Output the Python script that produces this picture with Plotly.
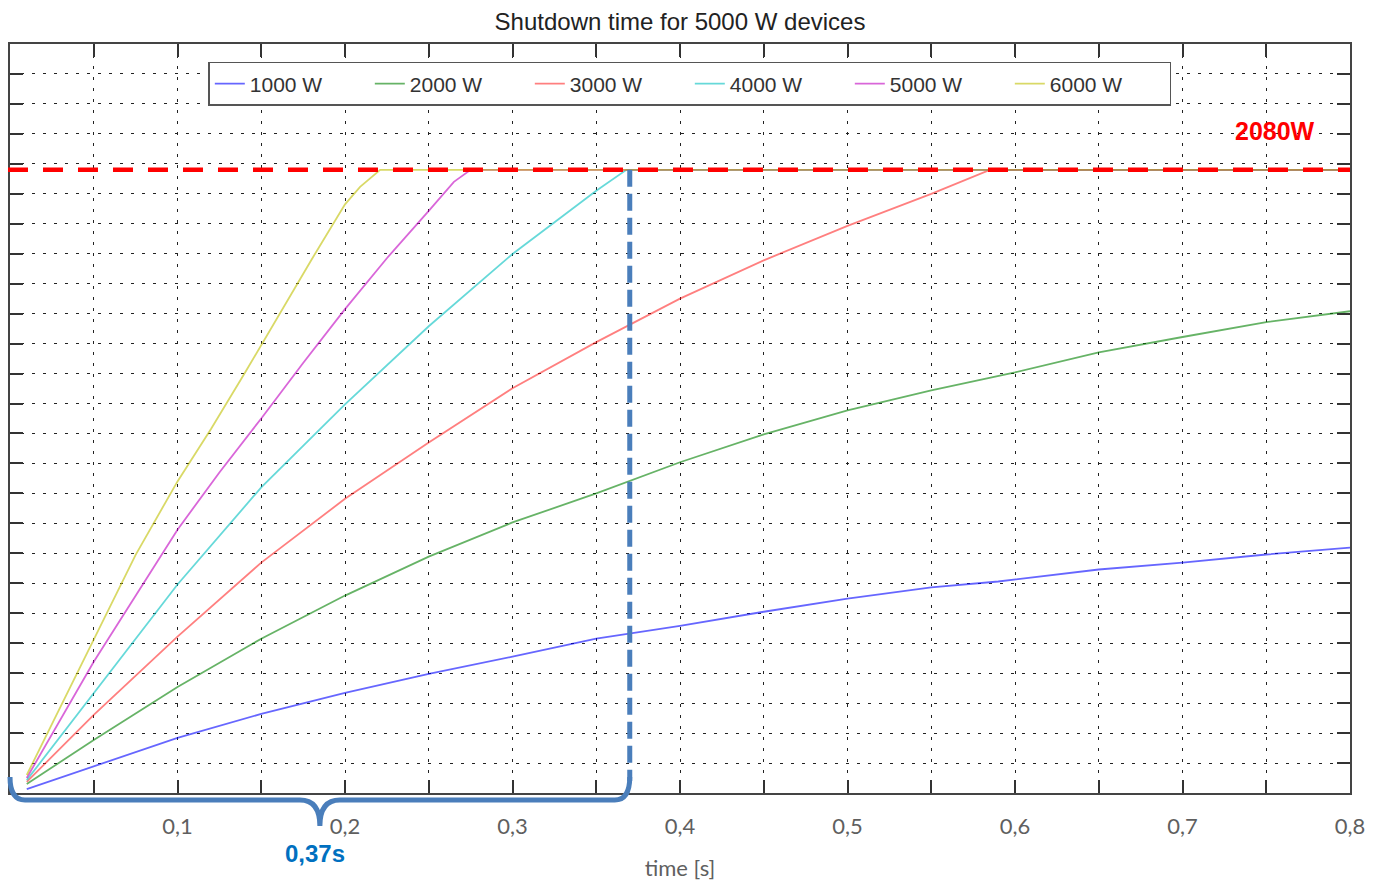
import plotly.graph_objects as go

# ---------------- data ----------------
series_names = ["1000 W", "2000 W", "3000 W", "4000 W", "5000 W", "6000 W"]

t_1000 = [0.010, 0.05, 0.10, 0.15, 0.20, 0.25, 0.30, 0.35, 0.40, 0.45, 0.50, 0.55, 0.59, 0.65, 0.70, 0.75, 0.80]
p_1000 = [13, 90, 184, 264, 334, 398, 455, 515, 558, 605, 649, 686, 706, 746, 769, 796, 819]

t_2000 = [0.010, 0.05, 0.10, 0.15, 0.20, 0.25, 0.30, 0.35, 0.40, 0.45, 0.50, 0.55, 0.60, 0.65, 0.70, 0.75, 0.80]
p_2000 = [30, 177, 354, 515, 659, 789, 903, 1000, 1104, 1197, 1277, 1344, 1404, 1471, 1522, 1572, 1608]

t_3000 = [0.010, 0.05, 0.10, 0.15, 0.20, 0.25, 0.30, 0.35, 0.40, 0.45, 0.50, 0.55, 0.585, 0.80]
p_3000 = [37, 261, 522, 769, 982, 1170, 1351, 1505, 1650, 1778, 1893, 2000, 2080, 2080]

t_4000 = [0.010, 0.05, 0.10, 0.15, 0.20, 0.25, 0.30, 0.35, 0.368, 0.80]
p_4000 = [43, 334, 696, 1020, 1297, 1558, 1799, 2010, 2080, 2080]

t_5000 = [0.010, 0.05, 0.10, 0.125, 0.15, 0.175, 0.20, 0.225, 0.25, 0.265, 0.275, 0.80]
p_5000 = [50, 438, 879, 1070, 1250, 1435, 1615, 1785, 1943, 2040, 2080, 2080]

t_6000 = [0.010, 0.05, 0.075, 0.10, 0.12, 0.14, 0.16, 0.18, 0.20, 0.209, 0.221, 0.80]
p_6000 = [60, 515, 795, 1040, 1215, 1400, 1590, 1780, 1965, 2023, 2080, 2080]

limit_power = 2080          # red dashed threshold
limit_label = "2080W"
shutdown_time = 0.37        # blue marker
shutdown_label = "0,37s"

x_tick_vals = [0.05, 0.10, 0.15, 0.20, 0.25, 0.30, 0.35, 0.40, 0.45, 0.50, 0.55, 0.60, 0.65, 0.70, 0.75, 0.80]
x_tick_text = ["", "0,1", "", "0,2", "", "0,3", "", "0,4", "", "0,5", "", "0,6", "", "0,7", "", "0,8"]
x_range = [0, 0.8]
y_range = [0, 2500]
y_grid_step = 100

line_colors = ["rgba(0,0,255,0.6)", "rgba(0,128,0,0.6)", "rgba(255,0,0,0.5)",
               "rgba(0,191,191,0.6)", "rgba(191,0,191,0.6)", "rgba(191,191,0,0.6)"]

# ---------------- figure ----------------
fig = go.Figure()
all_t = [t_1000, t_2000, t_3000, t_4000, t_5000, t_6000]
all_p = [p_1000, p_2000, p_3000, p_4000, p_5000, p_6000]
for name, tt, pp, col in zip(series_names, all_t, all_p, line_colors):
    fig.add_trace(go.Scatter(x=tt, y=pp, mode="lines", name=name,
                             line=dict(color=col, width=1.8)))

W, H = 1385, 881
ml, mr, mt, mb = 10, 35, 44, 88
plot_w = W - ml - mr
ph = H - mt - mb

fig.update_layout(
    width=W, height=H,
    margin=dict(l=ml, r=mr, t=mt, b=mb, autoexpand=False),
    paper_bgcolor="white", plot_bgcolor="white",
    title=dict(text="Shutdown time for 5000 W devices", x=0.5, xref="paper",
               y=1 - 22 / H, yref="container", xanchor="center", yanchor="middle",
               font=dict(family="Liberation Sans, Arial", size=24, color="#222222")),
    showlegend=True,
    legend=dict(orientation="h", x=0.148, y=0.976, xanchor="left", yanchor="top",
                bgcolor="white", bordercolor="#555555", borderwidth=1.5,
                entrywidth=115, entrywidthmode="pixels",
                font=dict(family="Liberation Sans, Arial", size=21, color="#333333")),
)

grid_kw = dict(showgrid=True, gridcolor="#222222", gridwidth=1.2, griddash="3px,8px",
               showline=True, linecolor="#444444", linewidth=2, mirror="ticks",
               ticks="inside", ticklen=13, tickwidth=2, tickcolor="#333333",
               zeroline=False, automargin=False)

fig.update_xaxes(range=x_range, tickmode="array", tickvals=x_tick_vals, ticktext=x_tick_text,
                 tickfont=dict(family="Lato, Open Sans", size=22, color="#5f5f5f"),
                 ticklabelstandoff=13,
                 title=dict(text="time [s]", standoff=22,
                            font=dict(family="Lato, Open Sans", size=22, color="#5f5f5f")),
                 **grid_kw)
fig.update_yaxes(range=y_range, dtick=y_grid_step, tick0=0, showticklabels=False, **grid_kw)

# red threshold line
fig.add_shape(type="line", xref="paper", yref="y", x0=-0.0015, x1=1.0,
              y0=limit_power, y1=limit_power,
              line=dict(color="#ff0000", width=4.5, dash="20px,15px"), layer="above")
fig.add_annotation(text="<b>" + limit_label + "</b>", x=0.755, y=limit_power + 130,
                   xref="x", yref="y", showarrow=False, xanchor="center", yanchor="middle",
                   font=dict(family="Liberation Sans, Arial", size=25, color="#ff0000"))

# blue shutdown marker
blue = "#4a7ebb"
fig.add_shape(type="line", xref="x", yref="y", x0=shutdown_time, x1=shutdown_time,
              y0=limit_power, y1=40,
              line=dict(color=blue, width=5, dash="17px,7px"), layer="above")

# curly brace under the axis (paper coordinates)
xe = shutdown_time / x_range[1]
xm = xe / 2
r = 15 / plot_w
r2 = 20 / plot_w
yl = -7 / ph
ytop = 16 / ph
ytip = -33 / ph
path = (f"M 0,{ytop} Q 0,{yl} {r},{yl} L {xm - r2},{yl} Q {xm},{yl} {xm},{ytip} "
        f"Q {xm},{yl} {xm + r2},{yl} L {xe - r},{yl} Q {xe},{yl} {xe},{ytop}")
fig.add_shape(type="path", xref="paper", yref="paper", path=path,
              line=dict(color=blue, width=5), layer="above")
fig.add_annotation(text="<b>" + shutdown_label + "</b>", x=xm - 5 / plot_w, y=-60 / ph,
                   xref="paper", yref="paper", showarrow=False,
                   xanchor="center", yanchor="middle",
                   font=dict(family="Liberation Sans, Arial", size=24, color="#0070c0"))

fig.write_html("out.html")
